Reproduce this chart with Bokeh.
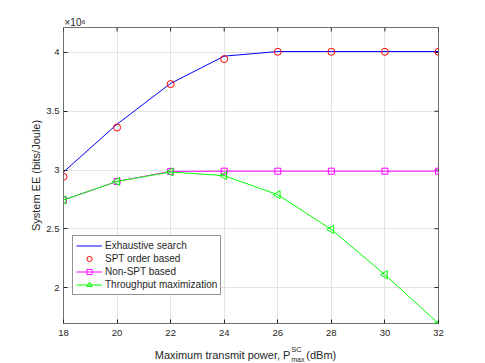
from bokeh.plotting import figure
from bokeh.models import Range1d, Legend, LegendItem
from bokeh.layouts import column
from bokeh.core.properties import value
from bokeh.embed import file_html
from bokeh.resources import INLINE
import math

# ---- data (System EE in units of 10^6 bits/Joule) ----
power_dbm = [18, 20, 22, 24, 26, 28, 30, 32]
ee_exhaustive = [2.983, 3.390, 3.737, 3.969, 4.008, 4.008, 4.008, 4.008]
ee_spt = [2.943, 3.362, 3.731, 3.944, 4.006, 4.006, 4.006, 4.006]
ee_non_spt = [2.745, 2.903, 2.988, 2.990, 2.990, 2.990, 2.990, 2.990]
ee_throughput = [2.745, 2.903, 2.983, 2.952, 2.790, 2.494, 2.109, 1.694]

x_ticks = [18, 20, 22, 24, 26, 28, 30, 32]
y_ticks = [2, 2.5, 3, 3.5, 4]
y_tick_labels = ["2", "2.5", "3", "3.5", "4"]
x_min, x_max = 18, 32
y_min, y_max = 1.694, 4.2126

FONT = "Liberation Sans"
TXT = "#262626"
BOX = "#6e6e6e"
W = 485

# ---- main plot ----
p = figure(width=W, height=341, title="\u00d710\u2076",
           x_range=Range1d(x_min, x_max), y_range=Range1d(y_min, y_max),
           output_backend="svg", toolbar_location=None,
           min_border_left=63, min_border_right=47,
           min_border_top=27, min_border_bottom=18)
p.title.align = "left"
p.title.offset = 1
p.title.standoff = 0
p.title.text_font = FONT
p.title.text_font_size = "10px"
p.title.text_font_style = "normal"
p.title.text_color = TXT

p.background_fill_color = "white"
p.border_fill_color = "white"
p.outline_line_color = BOX
p.outline_line_width = 1

p.xgrid.ticker = x_ticks
p.ygrid.ticker = y_ticks
p.xgrid.grid_line_color = "#e3e3e3"
p.ygrid.grid_line_color = "#e3e3e3"

for ax, ticks in ((p.xaxis[0], x_ticks), (p.yaxis[0], y_ticks)):
    ax.ticker = ticks
    ax.major_tick_in = 4
    ax.major_tick_out = 0
    ax.minor_tick_in = 0
    ax.minor_tick_out = 0
    ax.minor_tick_line_color = None
    ax.axis_line_color = None
    ax.major_tick_line_color = TXT
    ax.major_label_text_font = FONT
    ax.major_label_text_font_size = "9.5px"
    ax.major_label_text_color = TXT

p.xaxis[0].major_label_standoff = 6
p.yaxis[0].major_label_standoff = 4
p.yaxis[0].major_label_overrides = {t: s for t, s in zip(y_ticks, y_tick_labels)}
p.yaxis[0].axis_label = "System EE (bits/Joule)"
p.yaxis[0].axis_label_text_font = FONT
p.yaxis[0].axis_label_text_font_size = "11px"
p.yaxis[0].axis_label_text_font_style = "normal"
p.yaxis[0].axis_label_text_color = TXT
p.yaxis[0].axis_label_standoff = 1

# inward ticks on the top and right edges of the box
p.scatter(x_ticks, [y_max] * len(x_ticks), marker="dash", size=8,
          angle=math.pi / 2, line_color=TXT, line_width=1)
p.scatter([x_max] * len(y_ticks), y_ticks, marker="dash", size=8,
          line_color=TXT, line_width=1)

# series
r_ex = p.line(power_dbm, ee_exhaustive, line_color="#0000ff", line_width=1)
r_spt = p.scatter(power_dbm, ee_spt, marker="circle", size=7,
                  line_color="#ff0000", fill_color=None, line_width=1)
r_ns_l = p.line(power_dbm, ee_non_spt, line_color="#ff00ff", line_width=1)
r_ns_m = p.scatter(power_dbm, ee_non_spt, marker="square", size=6,
                   line_color="#ff00ff", fill_color=None, line_width=1)
r_tp_l = p.line(power_dbm, ee_throughput, line_color="#00ff00", line_width=1)
r_tp_m = p.scatter(power_dbm, ee_throughput, marker="triangle", size=8,
                   angle=math.pi / 2, line_color="#00ff00", fill_color=None,
                   line_width=1)

legend = Legend(items=[
    LegendItem(label="Exhaustive search", renderers=[r_ex]),
    LegendItem(label="SPT order based", renderers=[r_spt]),
    LegendItem(label="Non-SPT based", renderers=[r_ns_l, r_ns_m]),
    LegendItem(label="Throughput maximization", renderers=[r_tp_l, r_tp_m]),
], location=(9, 28))
legend.label_text_font = FONT
legend.label_text_font_size = "10px"
legend.label_text_color = TXT
legend.glyph_width = 26
legend.glyph_height = 13
legend.label_height = 13
legend.label_standoff = 3
legend.spacing = 0
legend.padding = 3
legend.margin = 0
legend.border_line_color = TXT
legend.border_line_width = 1
legend.background_fill_color = "white"
legend.background_fill_alpha = 1
p.add_layout(legend, "center")

# ---- bottom strip: x-axis title with super/subscript ----
BH = 22
bot = figure(width=W, height=BH, x_range=Range1d(0, W), y_range=Range1d(0, BH),
             x_axis_type=None, y_axis_type=None, output_backend="svg",
             toolbar_location=None, title=None, min_border=0,
             min_border_left=0, min_border_right=0,
             min_border_top=0, min_border_bottom=0)
bot.outline_line_color = None
bot.grid.visible = False
bot.background_fill_color = "white"
bot.border_fill_color = "white"


def txt(x, y, text, size, align="left"):
    bot.text(x=[x], y=[y], text=[text], text_font=value(FONT),
             text_font_size=size, text_color=TXT, text_align=align,
             text_baseline="alphabetic")


txt(293.5, 9, "Maximum transmit power, P", "11px", "right")
txt(294.5, 14.5, "SC", "7.5px")
txt(294.5, 4.5, "max", "7px")
txt(314, 9, "(dBm)", "11px")

layout = column(p, bot, spacing=0)
open("out.html", "w").write(file_html(layout, INLINE))
